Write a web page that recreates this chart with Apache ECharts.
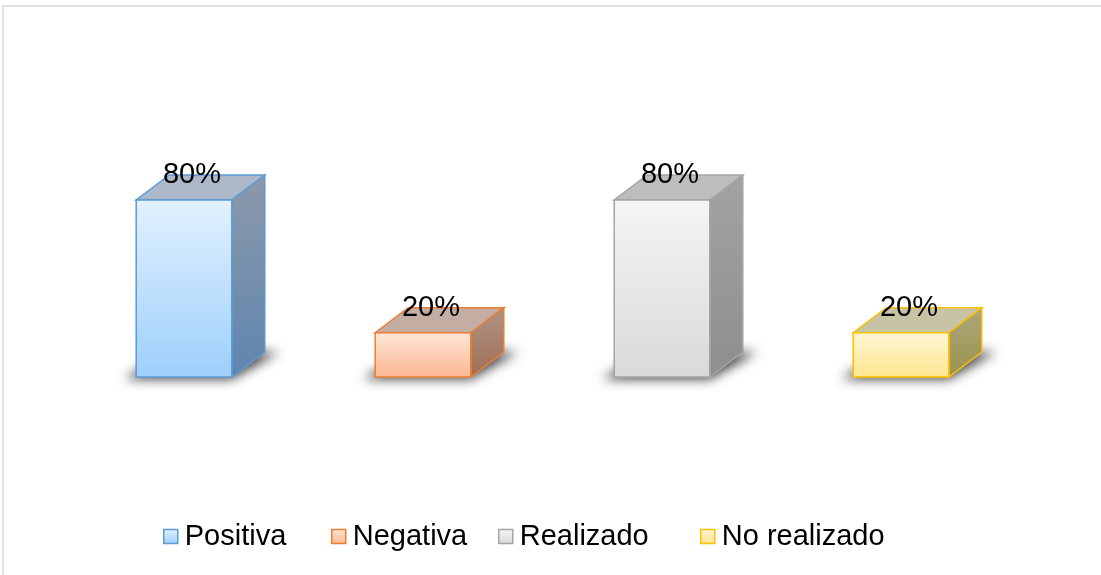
<!DOCTYPE html>
<html>
<head>
<meta charset="utf-8">
<script src="https://cdn.jsdelivr.net/npm/echarts@6/dist/echarts.min.js"></script>
<style>
  html, body { margin: 0; padding: 0; background: #fff; }
  #chart { width: 1101px; height: 575px; }
</style>
</head>
<body>
<div id="chart"></div>
<script>
// datos del gráfico
const categories = ['Positiva', 'Negativa', 'Realizado', 'No realizado'];
const values = [0.8, 0.2, 0.8, 0.2];

// estilos de cada barra 3D (frente, tapa, lateral, borde)
const palette = [
  { front: ['#e2f1ff', '#9dcffb'], top: '#adb9c9', side: ['#8c99aa', '#5f85af'], border: '#5b9bd5' },
  { front: ['#fee6d8', '#fbb690'], top: '#c4aea3', side: ['#ae9384', '#a06f55'], border: '#ed7d31' },
  { front: ['#f5f5f5', '#d9d9d9'], top: '#bdbdbd', side: ['#a3a3a3', '#8e8e8e'], border: '#a5a5a5' },
  { front: ['#fff7d6', '#ffe58f'], top: '#c7c3a5', side: ['#aca67c', '#9b934c'], border: '#ffc000' },
];
const legendLeft = [163, 331, 498, 700];

const DX = 33, DY = -25;
const FAR = 3000; // la sombra se dibuja fuera y se trae con shadowOffsetX
const grad = (a, b) => new echarts.graphic.LinearGradient(0, 0, 0, 1, [
  { offset: 0, color: a }, { offset: 1, color: b },
]);

function renderBar(params, api) {
  const p = palette[params.seriesIndex];
  const base = api.coord([api.value(0), 0]);
  const tp = api.coord([api.value(0), api.value(1)]);
  const w = api.size([1, 0])[0] * 0.4;
  const x0 = base[0] - w / 2, x1 = base[0] + w / 2;
  const y0 = tp[1], y1 = base[1];
  return {
    type: 'group',
    children: [
      {
        type: 'polygon',
        shape: { points: [[x0 - 12 + FAR, y1 + 2], [x1 + FAR, y1 + 2], [x1 + DX + 14 + FAR, y1 + DY], [x0 + DX + FAR, y1 + DY]] },
        style: { fill: '#000', shadowBlur: 12, shadowColor: 'rgba(0,0,0,0.75)', shadowOffsetX: -FAR, shadowOffsetY: 0 },
      },
      {
        type: 'polygon',
        shape: { points: [[x0, y0], [x1, y0], [x1 + DX, y0 + DY], [x0 + DX, y0 + DY]] },
        style: { fill: p.top, stroke: p.border, lineWidth: 1.5 },
      },
      {
        type: 'polygon',
        shape: { points: [[x1, y0], [x1 + DX, y0 + DY], [x1 + DX, y1 + DY], [x1, y1]] },
        style: { fill: grad(p.side[0], p.side[1]), stroke: p.border, lineWidth: 1.5 },
      },
      {
        type: 'rect',
        shape: { x: x0, y: y0, width: w, height: y1 - y0 },
        style: { fill: grad(p.front[0], p.front[1]), stroke: p.border, lineWidth: 1.5 },
      },
      {
        type: 'text',
        style: {
          text: Math.round(api.value(1) * 100) + '%',
          x: base[0] + 8, y: y0 - 25,
          align: 'center', verticalAlign: 'middle',
          fontSize: 29, fontFamily: 'Liberation Sans, Arial, sans-serif', fill: '#000',
        },
      },
    ],
  };
}

const chart = echarts.init(document.getElementById('chart'));

chart.setOption({
  animation: false,
  grid: { left: 64.5, right: 80.5, top: 155.75, bottom: 198 },
  xAxis: {
    type: 'category', data: categories, boundaryGap: true,
    axisLine: { show: false }, axisTick: { show: false }, axisLabel: { show: false },
  },
  yAxis: { type: 'value', min: 0, max: 1, show: false, splitLine: { show: false } },
  legend: categories.map((name, i) => ({
    left: legendLeft[i], top: 522, padding: 0,
    itemWidth: 14, itemHeight: 14, itemGap: 8,
    textStyle: { fontSize: 29, fontFamily: 'Liberation Sans, Arial, sans-serif', color: '#000', padding: [0, 0, 0, 2] },
    data: [{
      name, icon: 'rect',
      itemStyle: { color: grad(palette[i].front[0], palette[i].front[1]), borderColor: palette[i].border, borderWidth: 1.5 },
    }],
  })),
  graphic: [{
    type: 'rect',
    shape: { x: 3, y: 6, width: 1120, height: 600 },
    style: { fill: 'none', stroke: '#d9d9d9', lineWidth: 1.5 },
    silent: true,
  }],
  series: categories.map((name, i) => ({
    name, type: 'custom',
    renderItem: renderBar,
    itemStyle: { color: palette[i].border },
    encode: { x: 0, y: 1 },
    data: [[i, values[i]]],
  })),
});
</script>
</body>
</html>
